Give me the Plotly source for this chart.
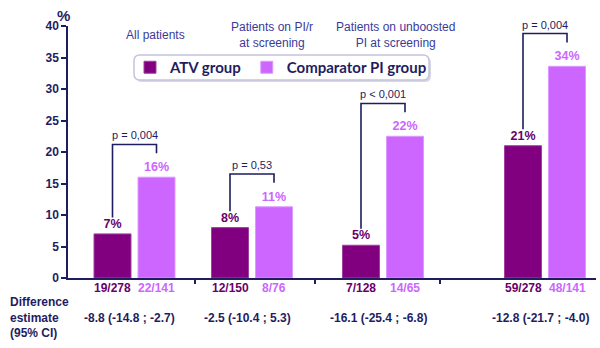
import plotly.graph_objects as go

# ---------------- data ----------------
groups = ["All patients", "Patients on PI/r<br>at screening",
          "Patients on unboosted<br>PI at screening", ""]
atv_pct = [7.0, 8.0, 5.2, 21.0]
comp_pct = [16.0, 11.3, 22.5, 33.6]
atv_labels = ["7%", "8%", "5%", "21%"]
comp_labels = ["16%", "11%", "22%", "34%"]
atv_frac = ["19/278", "12/150", "7/128", "59/278"]
comp_frac = ["22/141", "8/76", "14/65", "48/141"]
p_values = ["p = 0,004", "p = 0,53", "p < 0,001", "p = 0,004"]
diff_est = ["-8.8 (-14.8 ; -2.7)", "-2.5 (-10.4 ; 5.3)",
            "-16.1 (-25.4 ; -6.8)", "-12.8 (-21.7 ; -4.0)"]
y_ticks = [0, 5, 10, 15, 20, 25, 30, 35, 40]

# ---------------- layout settings ----------------
W, H = 600, 348
ML, MR, MT, MB = 68, 4, 26, 70
PW = W - ML - MR
PH = H - MT - MB
group_pos = [66.5, 184, 315, 477]      # group centres in x-axis units (1 unit = 1 px)
group_sep = [127, 247, 372]            # tick marks between groups
bar_off = 22
bar_w = 37

NAVY = "#1f1d5f"
HEAD = "#3a3a9a"
ATV_C = "#800080"
COMP_C = "#cc66ff"
ATV_T = "#6a006a"
FONT = "Liberation Sans, Arial, sans-serif"

x_atv = [g - bar_off for g in group_pos]
x_comp = [g + bar_off for g in group_pos]

fig = go.Figure()
fig.add_trace(go.Bar(
    x=x_atv, y=atv_pct, width=bar_w, name="ATV group",
    marker=dict(color=ATV_C, line=dict(color="#a040a0", width=1)),
    text=atv_labels, textposition="outside",
    textfont=dict(color=ATV_T, size=12.5, family=FONT, weight="bold"),
    cliponaxis=False))
fig.add_trace(go.Bar(
    x=x_comp, y=comp_pct, width=bar_w, name="Comparator PI group",
    marker=dict(color=COMP_C, line=dict(color="#dd99ff", width=1)),
    text=comp_labels, textposition="outside",
    textfont=dict(color=COMP_C, size=12.5, family=FONT, weight="bold"),
    cliponaxis=False))

shapes = []
annotations = []

def px2paper_x(px):
    return (px - ML) / PW

def py2paper_y(py):
    return (H - MB - py) / PH

# brackets with p-values
for i in range(len(group_pos)):
    top = comp_pct[i] + 5.2
    xl, xr = x_atv[i], x_comp[i]
    shapes.append(dict(type="path", xref="x", yref="y",
                       path=f"M{xl},{atv_pct[i] + 2.6} L{xl},{top} L{xr},{top} L{xr},{comp_pct[i] + 3.8}",
                       line=dict(color=NAVY, width=1.6)))
    annotations.append(dict(x=group_pos[i], y=top, xref="x", yref="y",
                            text=p_values[i], showarrow=False, yanchor="bottom",
                            yshift=1, font=dict(color=NAVY, size=11, family=FONT)))

# fractions under bars
for i in range(len(group_pos)):
    annotations.append(dict(x=x_atv[i], y=0, xref="x", yref="y", text=atv_frac[i],
                            showarrow=False, yanchor="top", yshift=-1,
                            font=dict(color=ATV_T, size=12, family=FONT, weight="bold")))
    annotations.append(dict(x=x_comp[i], y=0, xref="x", yref="y", text=comp_frac[i],
                            showarrow=False, yanchor="top", yshift=-1,
                            font=dict(color=COMP_C, size=12, family=FONT, weight="bold")))
    annotations.append(dict(x=group_pos[i] - 5, y=py2paper_y(318), xref="x", yref="paper",
                            text=diff_est[i], showarrow=False, yanchor="middle",
                            font=dict(color=NAVY, size=12, family=FONT, weight="bold")))

# group headers
header_px = [155, 272, 395]
header_py = [35, 35, 35]
for i in range(3):
    annotations.append(dict(x=px2paper_x(header_px[i]), y=py2paper_y(header_py[i]),
                            xref="paper", yref="paper", text=groups[i], showarrow=False,
                            yanchor="middle", xanchor="center",
                            font=dict(color=HEAD, size=12, family=FONT)))

annotations.append(dict(x=px2paper_x(8), y=py2paper_y(318), xref="paper", yref="paper",
                        text="Difference<br>estimate<br>(95% CI)", showarrow=False,
                        xanchor="left", yanchor="middle", align="left",
                        font=dict(color=NAVY, size=12, family=FONT, weight="bold")))
annotations.append(dict(x=px2paper_x(63), y=py2paper_y(16), xref="paper", yref="paper",
                        text="%", showarrow=False, xanchor="center", yanchor="middle",
                        font=dict(color=NAVY, size=15, family=FONT, weight="bold")))

# legend box (rounded)
def rrect(x0, y0, x1, y1, r):
    X = lambda v: px2paper_x(v)
    Y = lambda v: py2paper_y(v)
    return (f"M{X(x0 + r)},{Y(y0)} L{X(x1 - r)},{Y(y0)} Q{X(x1)},{Y(y0)} {X(x1)},{Y(y0 + r)} "
            f"L{X(x1)},{Y(y1 - r)} Q{X(x1)},{Y(y1)} {X(x1 - r)},{Y(y1)} "
            f"L{X(x0 + r)},{Y(y1)} Q{X(x0)},{Y(y1)} {X(x0)},{Y(y1 - r)} "
            f"L{X(x0)},{Y(y0 + r)} Q{X(x0)},{Y(y0)} {X(x0 + r)},{Y(y0)} Z")

shapes.append(dict(type="path", xref="paper", yref="paper", layer="below",
                   path=rrect(136, 57, 431, 82, 6), fillcolor="#d8d8e4",
                   line=dict(width=0)))
shapes.append(dict(type="path", xref="paper", yref="paper", layer="below",
                   path=rrect(134, 55, 429, 80, 6), fillcolor="white",
                   line=dict(color="#c4c4dc", width=1.5)))

fig.update_layout(
    width=W, height=H,
    margin=dict(l=ML, r=MR, t=MT, b=MB),
    plot_bgcolor="white", paper_bgcolor="white",
    barmode="overlay",
    showlegend=True,
    legend=dict(orientation="h", x=px2paper_x(130), y=py2paper_y(67.5),
                xanchor="left", yanchor="middle", bgcolor="rgba(0,0,0,0)",
                font=dict(color=NAVY, size=15, family="Lato, sans-serif", weight="bold"),
                itemwidth=30, tracegroupgap=0),
    xaxis=dict(range=[0, PW], showgrid=False, zeroline=False,
               showline=True, linecolor=NAVY, linewidth=1.5,
               tickvals=group_sep, ticktext=["", "", ""], ticks="outside",
               ticklen=4, tickcolor=NAVY, tickwidth=1.5, fixedrange=True),
    yaxis=dict(range=[0, 40], tickvals=y_ticks, showgrid=False, zeroline=False,
               showline=True, linecolor=NAVY, linewidth=1.5,
               ticks="outside", ticklen=5, tickcolor=NAVY, tickwidth=1.5,
               tickfont=dict(color=NAVY, size=12, family=FONT, weight="bold")),
    shapes=shapes, annotations=annotations,
    uniformtext=dict(minsize=8),
)

fig.write_html("out.html")
